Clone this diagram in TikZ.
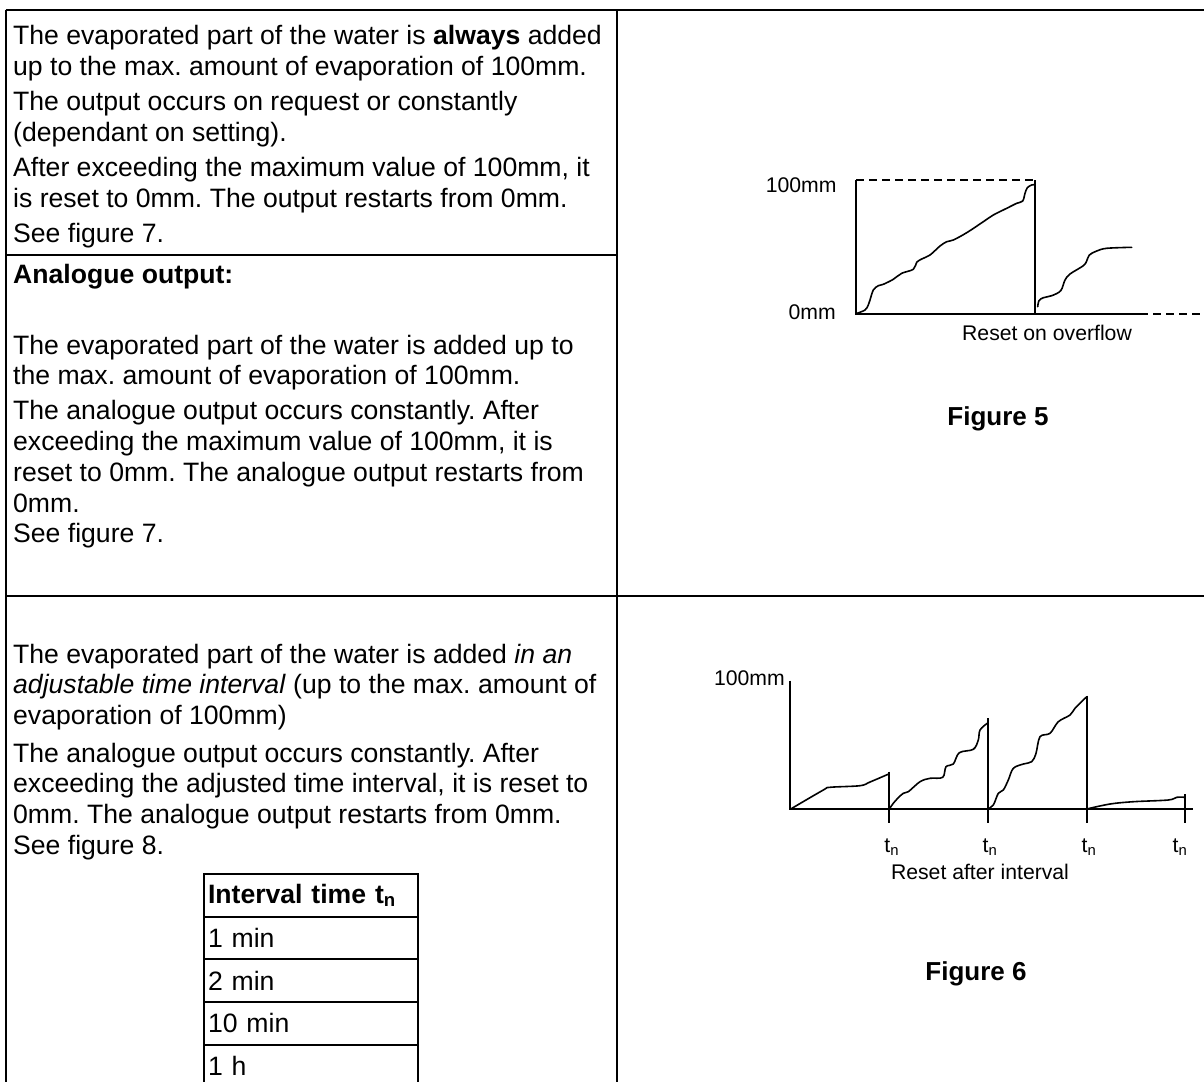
\documentclass[tikz,border=0pt]{standalone}
\usepackage{fontspec}
\setmainfont{Liberation Sans}
\usetikzlibrary{positioning}
\newcommand{\bodyfont}{\fontsize{26.6}{30.7}\selectfont\frenchspacing}
\newcommand{\labelfont}{\fontsize{21.2}{25}\selectfont}
\newcommand{\figfont}{\fontsize{26}{30}\selectfont\bfseries}
\newcommand{\txtlines}[1]{\begin{tabular}[t]{@{}l@{}}#1\end{tabular}}

\begin{document}
\begin{tikzpicture}[x=1pt, y=-1pt,
        frame/.style={line width=2pt},
        axis/.style={line width=1.8pt},
        curve/.style={line width=1.6pt, line join=round, line cap=round},
        guide/.style={line width=1.6pt, dash pattern=on 8pt off 5pt},
        block/.style={anchor=base west, inner sep=0pt, font=\bodyfont},
        lbl/.style={inner sep=0pt, font=\labelfont},
        figtitle/.style={inner sep=0pt, font=\figfont},
        cellbox/.style={draw, line width=2pt, outer sep=0pt, inner xsep=4pt, inner ysep=0pt,
            text width=205.5pt, align=left, minimum height=42.7pt, font=\bodyfont}]
    \useasboundingbox (0,0) rectangle (1204,1081);
    \clip (0,0) rectangle (1204,1081);

    % table frame
    \draw[frame] (5.5,10) -- (1210,10);
    \draw[frame] (5.5,10) -- (5.5,1090);
    \draw[frame] (617,10) -- (617,1090);
    \draw[frame] (5.5,255) -- (617,255);
    \draw[frame] (5.5,596) -- (1210,596);

    % left column texts
    \node[block] (sec1) at (13,45) {\txtlines{The evaporated part of the water is \textbf{always} added\\
        up to the max. amount of evaporation of 100mm.\\[4.5pt]
        The output occurs on request or constantly\\
        (dependant on setting).\\[4.5pt]
        After exceeding the maximum value of 100mm, it\\
        is reset to 0mm. The output restarts from 0mm.\\[4pt]
        See figure 7.}};
    \node[block, font=\bodyfont\bfseries] (head2) at (13,283) {Analogue output:};
    \node[block] (sec2) at (13,354) {\txtlines{The evaporated part of the water is added up to\\
        the max. amount of evaporation of 100mm.\\[4.5pt]
        The analogue output occurs constantly. After\\
        exceeding the maximum value of 100mm, it is\\
        reset to 0mm. The analogue output restarts from\\
        0mm.\\
        See figure 7.}};
    \node[block] (sec3) at (13,663) {\txtlines{The evaporated part of the water is added \textit{in an}\\
        \textit{adjustable time interval} (up to the max. amount of\\
        evaporation of 100mm)\\[7pt]
        The analogue output occurs constantly. After\\
        exceeding the adjusted time interval, it is reset to\\
        0mm. The analogue output restarts from 0mm.\\
        See figure 8.}};

    % interval table
    \node[cellbox, anchor=north west, font=\bodyfont\bfseries] (ihead) at (204,874) {Interval time t\textsubscript{n}};
    \node[cellbox, below=0pt of ihead] (irow1) {1 min};
    \node[cellbox, below=0pt of irow1] (irow2) {2 min};
    \node[cellbox, below=0pt of irow2] (irow3) {10 min};
    \node[cellbox, below=0pt of irow3] (irow4) {1 h};

    % figure 5: reset on overflow
    \draw[axis] (856,180) -- (856,313.7) -- (1140,313.7);
    \draw[axis] (1035.3,180) -- (1035.3,313.7);
    \draw[guide] (856,180) -- (1035.3,180);
    \draw[guide] (1140,313.7) -- (1210,313.7);
    \draw[curve] plot[smooth, tension=0.55] coordinates {(856,313.7) (865,310) (868.3,305) (870,300)
        (873.3,290) (878.3,285.7) (883.3,284.3) (893.3,279.3) (901.7,273.3) (913.3,269.3)
        (916.7,262.3) (921.7,259) (930,255) (940,246) (946.7,241.7) (953.3,240) (966.7,232.7)
        (983.3,221.7) (993.3,215) (1006.7,208.3) (1016.7,203.3) (1022.7,201) (1025,193.3)
        (1027.3,187.7) (1031.7,185) (1034.7,184.7)};
    \draw[curve] plot[smooth, tension=0.55] coordinates {(1037.7,306.7) (1039,300.7) (1043.3,297.7)
        (1051.7,295.7) (1060.7,290.7) (1065,280) (1070,274) (1083.3,265.7) (1086.7,261)
        (1089.3,255) (1096.7,251) (1106.7,248.3) (1131.7,247.3)};
    \node[lbl, anchor=east] (max5) at (836.7,185.7) {100mm};
    \node[lbl, anchor=east] (zero5) at (836,311.7) {0mm};
    \node[lbl] (reset5) at (1047,333.3) {Reset on overflow};
    \node[figtitle] (fig5) at (998,418.4) {Figure 5};

    % figure 6: reset after interval
    \draw[axis] (790,680.7) -- (790,809) -- (1193.3,809);
    \foreach \tx/\ty in {889/771.7, 987.7/718.3, 1086.7/695.7, 1185/794.3}
        \draw[axis] (\tx,\ty) -- (\tx,823.3);
    \draw[curve] plot[smooth, tension=0.55] coordinates {(790.7,809) (823.3,790) (830,787.3)
        (860,785.7) (870,782) (888.7,774)};
    \draw[curve] plot[smooth, tension=0.55] coordinates {(889.3,809) (893.3,803.3) (898,798)
        (903.3,793.3) (908.3,791.7) (920,781.7) (930,778.3) (942.7,777.3) (946,766.7)
        (953.3,764) (959.3,752.7) (973.3,749.3) (978.3,740) (980,730) (987.3,723.3)};
    \draw[curve] plot[smooth, tension=0.55] coordinates {(987.7,809) (993.3,805) (998.3,793.3)
        (1003.3,790) (1008.3,780) (1013.3,768.3) (1023.3,764) (1031.7,761.7) (1036,753.3)
        (1040,736.7) (1050,733.3) (1058.3,721.7) (1070,715) (1075,708.3) (1086.7,696.7)};
    \draw[curve] plot[smooth, tension=0.55] coordinates {(1086.7,809) (1110,804) (1133.3,801.7)
        (1168.3,800) (1176.7,797.3) (1185,797.3)};
    \node[lbl, anchor=east] (max6) at (785,678) {100mm};
    \foreach \lx [count=\i] in {891.7, 990, 1089, 1180}
        \node[lbl] (tn\i) at (\lx,846.7) {t\textsubscript{n}};
    \node[lbl] (reset6) at (980,871.7) {Reset after interval};
    \node[figtitle] (fig6) at (976,974) {Figure 6};
\end{tikzpicture}
\end{document}
